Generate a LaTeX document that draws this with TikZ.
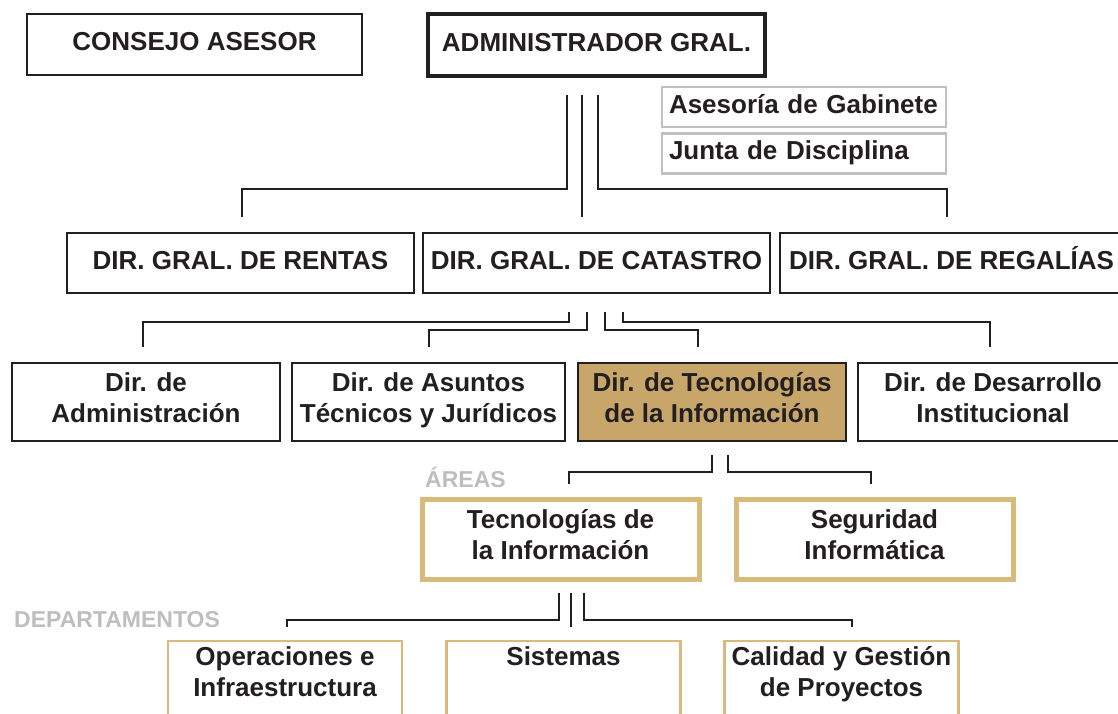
\documentclass[tikz,border=0pt]{standalone}
\usepackage{fontspec}
\setmainfont{Liberation Sans}
\definecolor{ink}{RGB}{35,31,32}
\definecolor{ocre}{RGB}{200,166,106}
\definecolor{ocreline}{RGB}{216,186,122}
\definecolor{grisbox}{RGB}{192,192,192}
\definecolor{grislabel}{RGB}{190,190,190}
\begin{document}
\begin{tikzpicture}[x=1pt,y=-1pt,
	every node/.style={font=\fontsize{26}{31}\selectfont\bfseries, text=ink, align=center,
		execute at begin node=\strut, execute at end node=\strut},
	caja/.style={draw=ink, line width=2.4pt, inner sep=0pt},
	jefe/.style={caja, line width=4.5pt},
	asesoria/.style={draw=grisbox, line width=2.4pt, text width=270pt, align=left, inner xsep=7pt,
		inner ysep=0pt, minimum width=284pt, minimum height=40pt},
	dirti/.style={caja, fill=ocre},
	area/.style={draw=ocreline, line width=5pt, inner sep=0pt, minimum width=277pt, minimum height=80pt},
	depto/.style={draw=ocreline, line width=2.4pt, anchor=north, inner xsep=0pt, inner ysep=5.3pt,
		minimum width=234pt, execute at end node={\vrule width 0pt depth 40pt}},
	etiqueta/.style={text=grislabel, font=\fontsize{23}{28}\selectfont\bfseries, anchor=base west, inner sep=0pt},
	conector/.style={draw=ink, line width=2pt}]
	\useasboundingbox (0,0) rectangle (1118,713);
	\clip (0,0) rectangle (1118,713);

	\node[caja, minimum width=335pt, minimum height=61pt] (consejo) at (194.5,44.5) {CONSEJO ASESOR};
	\node[jefe, minimum width=337pt, minimum height=62pt] (admin) at (596.5,45) {ADMINISTRADOR GRAL.};
	\node[asesoria] (gabinete) at (804,107) {Asesoría de Gabinete};
	\node[asesoria] (junta) at (804,153.5) {Junta de Disciplina};

	\node[caja, minimum width=347pt, minimum height=60pt] (rentas) at (240.5,263) {DIR. GRAL. DE RENTAS};
	\node[caja, minimum width=347pt, minimum height=60pt] (catastro) at (596.5,263) {DIR. GRAL. DE CATASTRO};
	\node[caja, minimum width=343pt, minimum height=60pt] (regalias) at (951.5,263) {DIR. GRAL. DE REGALÍAS};

	\node[caja, minimum width=268pt, minimum height=78pt] (dadm) at (146,402) {Dir. de\\Administración};
	\node[caja, minimum width=273pt, minimum height=78pt] (dasu) at (428.5,402) {Dir. de Asuntos\\Técnicos y Jurídicos};
	\node[dirti, minimum width=268pt, minimum height=78pt] (dti) at (712,402) {Dir. de Tecnologías\\de la Información};
	\node[caja, minimum width=270pt, minimum height=78pt] (ddes) at (993,402) {Dir. de Desarrollo\\Institucional};

	\node[etiqueta] (areas) at (425,487) {ÁREAS};
	\node[area] (ati) at (560.5,539) {Tecnologías de\\la Información};
	\node[area] (aseg) at (874.5,539) {Seguridad\\Informática};

	\node[etiqueta] (deptos) at (14,627) {DEPARTAMENTOS};
	\node[depto] (ops) at (285,640) {Operaciones e\\Infraestructura};
	\node[depto] (sis) at (563.5,640) {Sistemas\\\mbox{}};
	\node[depto] (cal) at (841.5,640) {Calidad y Gestión\\de Proyectos};

	\draw[conector] ([xshift=-29.5pt,yshift=-17pt]admin.south) -- ++(0,94) -| ([xshift=1.5pt,yshift=15pt]rentas.north);
	\draw[conector] ([xshift=-14.5pt,yshift=-17pt]admin.south) -- ([xshift=-14.5pt,yshift=15pt]catastro.north);
	\draw[conector] ([xshift=1.5pt,yshift=-17pt]admin.south) -- ++(0,94) -| ([xshift=-4.5pt,yshift=15pt]regalias.north);

	\draw[conector] ([xshift=-27.5pt,yshift=-18pt]catastro.south) -- ++(0,10) -| ([xshift=-3pt,yshift=15pt]dadm.north);
	\draw[conector] ([xshift=-9.5pt,yshift=-18pt]catastro.south) -- ++(0,18) -| ([yshift=15pt]dasu.north);
	\draw[conector] ([xshift=8.5pt,yshift=-18pt]catastro.south) -- ++(0,18) -| ([xshift=-14pt,yshift=15pt]dti.north);
	\draw[conector] ([xshift=26.5pt,yshift=-18pt]catastro.south) -- ++(0,10) -| ([xshift=-3pt,yshift=15pt]ddes.north);

	\draw[conector] ([yshift=-13pt]dti.south) -- ++(0,17) -| ([xshift=8.5pt,yshift=13pt]ati.north);
	\draw[conector] ([xshift=16pt,yshift=-13pt]dti.south) -- ++(0,17) -| ([xshift=-3.5pt,yshift=13pt]aseg.north);

	\draw[conector] ([xshift=-1.5pt,yshift=-11pt]ati.south) -- ++(0,27) -| ([xshift=2pt,yshift=13pt]ops.north);
	\draw[conector] ([xshift=10.5pt,yshift=-11pt]ati.south) -- ([xshift=7.5pt,yshift=13pt]sis.north);
	\draw[conector] ([xshift=23.5pt,yshift=-11pt]ati.south) -- ++(0,27) -| ([xshift=10.5pt,yshift=13pt]cal.north);
\end{tikzpicture}
\end{document}
